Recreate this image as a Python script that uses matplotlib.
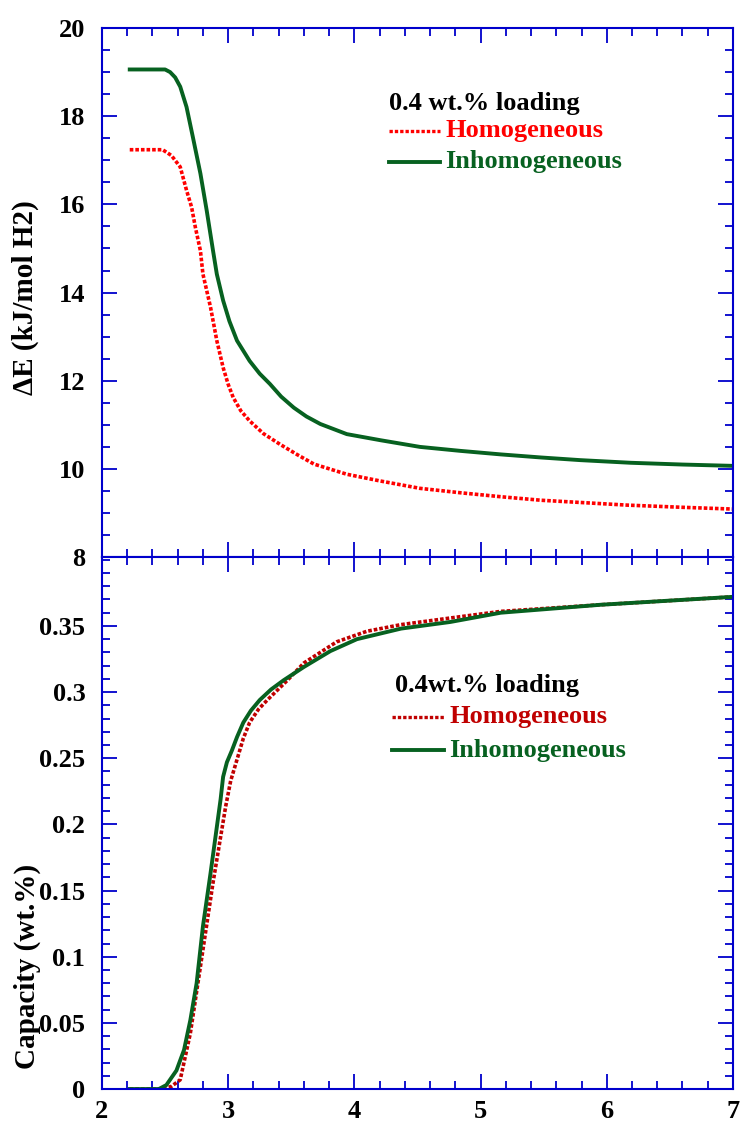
import matplotlib.pyplot as plt
from matplotlib.ticker import MultipleLocator

# interaction energy vs distance, 0.4 wt.% loading
x_homo_e = [2.22, 2.48, 2.55, 2.62, 2.67, 2.71, 2.74, 2.78, 2.80, 2.86, 2.91, 2.96, 3.00, 3.04,
            3.10, 3.17, 3.28, 3.41, 3.55, 3.68, 3.94, 4.20, 4.52, 4.84, 5.16, 5.48, 5.79, 6.16, 6.60, 7.00]
e_homo = [17.24, 17.24, 17.11, 16.85, 16.32, 15.94, 15.48, 14.95, 14.42, 13.67, 12.91, 12.30, 11.92, 11.62,
          11.32, 11.09, 10.80, 10.56, 10.32, 10.11, 9.88, 9.73, 9.56, 9.46, 9.37, 9.29, 9.24, 9.18, 9.13, 9.09]
x_inhomo_e = [2.22, 2.50, 2.54, 2.58, 2.62, 2.67, 2.72, 2.78, 2.83, 2.88, 2.91, 2.96, 3.01, 3.07, 3.17,
              3.25, 3.33, 3.42, 3.52, 3.62, 3.73, 3.94, 4.21, 4.52, 4.84, 5.16, 5.48, 5.79, 6.19, 6.60, 7.00]
e_inhomo = [19.06, 19.06, 19.00, 18.88, 18.67, 18.21, 17.53, 16.70, 15.86, 14.95, 14.42, 13.82, 13.35, 12.91, 12.45,
            12.16, 11.93, 11.64, 11.39, 11.19, 11.02, 10.79, 10.65, 10.50, 10.41, 10.33, 10.26, 10.20, 10.14, 10.10, 10.07]

# storage capacity
x_homo_c = [2.22, 2.48, 2.55, 2.62, 2.70, 2.78, 2.88, 2.98, 3.02, 3.07, 3.12, 3.17, 3.24, 3.31, 3.47, 3.60,
            3.86, 4.10, 4.37, 4.76, 5.16, 5.95, 7.00]
cap_homo = [0.0, 0.0, 0.002, 0.007, 0.042, 0.0925, 0.156, 0.2135, 0.233, 0.249, 0.265, 0.277, 0.287, 0.294, 0.309, 0.322,
            0.338, 0.346, 0.351, 0.356, 0.361, 0.366, 0.372]
x_inhomo_c = [2.22, 2.45, 2.51, 2.59, 2.65, 2.70, 2.75, 2.80, 2.86, 2.91, 2.94, 2.96, 2.99, 3.03, 3.07, 3.12,
              3.18, 3.25, 3.34, 3.44, 3.60, 3.81, 4.02, 4.37, 4.76, 5.16, 5.95, 7.00]
cap_inhomo = [0.0, 0.0, 0.003, 0.014, 0.0295, 0.052, 0.080, 0.123, 0.163, 0.198, 0.219, 0.236, 0.247, 0.256, 0.266, 0.277,
              0.286, 0.294, 0.302, 0.309, 0.319, 0.331, 0.340, 0.348, 0.353, 0.360, 0.366, 0.372]

RED = '#ff0000'
DARKRED = '#c00000'
GREEN = '#076120'
BLUE = '#0000cc'
SERIF = ['Liberation Serif', 'DejaVu Serif']

plt.rcParams['font.family'] = SERIF
plt.rcParams['font.weight'] = 'bold'

fig = plt.figure(figsize=(7.4, 11.21), dpi=100)
ax1 = fig.add_axes([0.1378, 0.503, 0.8527, 0.472])
ax2 = fig.add_axes([0.1378, 0.0285, 0.8527, 0.4745])


def style_axes(ax):
    for sp in ax.spines.values():
        sp.set_color(BLUE)
        sp.set_linewidth(1.5)
    ax.xaxis.set_major_locator(MultipleLocator(1))
    ax.xaxis.set_minor_locator(MultipleLocator(0.2))
    ax.tick_params(which='both', direction='in', top=True, right=True, color=BLUE,
                   labelsize=19, width=1.3)
    ax.tick_params(which='major', length=11)
    ax.tick_params(which='minor', length=6)
    ax.tick_params(axis='y', pad=12)
    ax.set_xlim(2, 7)
    for lab in ax.get_xticklabels() + ax.get_yticklabels():
        lab.set_fontweight('bold')


ax1.plot(x_homo_e, e_homo, color=RED, lw=2.6, linestyle=(0, (1.0, 0.55)))
ax1.plot(x_inhomo_e, e_inhomo, color=GREEN, lw=2.8)
ax1.set_ylim(8, 20)
ax1.yaxis.set_major_locator(MultipleLocator(2))
ax1.yaxis.set_minor_locator(MultipleLocator(0.5))
style_axes(ax1)
ax1.tick_params(axis='x', labelbottom=False)
ax1.set_ylabel('ΔE (kJ/mol H2)', fontsize=21, fontweight='bold')
ax1.yaxis.set_label_coords(-0.100, 0.49)

ax2.plot(x_homo_c, cap_homo, color=DARKRED, lw=2.6, linestyle=(0, (1.0, 0.55)))
ax2.plot(x_inhomo_c, cap_inhomo, color=GREEN, lw=2.8)
ax2.set_ylim(0, 0.402)
ax2.yaxis.set_major_locator(MultipleLocator(0.05))
ax2.yaxis.set_minor_locator(MultipleLocator(0.01))
style_axes(ax2)
ax2.set_yticks([0, 0.05, 0.1, 0.15, 0.2, 0.25, 0.3, 0.35])
ax2.set_yticklabels(['0', '0.05', '0.1', '0.15', '0.2', '0.25', '0.3', '0.35'], fontweight='bold')
ax2.set_ylabel('Capacity (wt.%)', fontsize=21, fontweight='bold')
ax2.yaxis.set_label_coords(-0.097, 0.23)
ax2.tick_params(axis='x', pad=8)

# hand-placed legends in axes fraction coordinates
def legend_block(ax, title, tx, ty, lx0, lx1, ly_h, ly_i, red):
    ax.text(tx, ty, title, transform=ax.transAxes, fontsize=19, fontweight='bold',
            va='center', ha='left')
    ax.plot([lx0, lx1], [ly_h, ly_h], transform=ax.transAxes, color=red, lw=2.4,
            linestyle=(0, (1.0, 0.6)), clip_on=False)
    ax.plot([lx0, lx1], [ly_i, ly_i], transform=ax.transAxes, color=GREEN, lw=2.8, clip_on=False)
    ax.text(lx1 + 0.008, ly_h, 'Homogeneous', transform=ax.transAxes, fontsize=19,
            fontweight='bold', color=red, va='center', ha='left')
    ax.text(lx1 + 0.008, ly_i, 'Inhomogeneous', transform=ax.transAxes, fontsize=19,
            fontweight='bold', color=GREEN, va='center', ha='left')


legend_block(ax1, '0.4 wt.% loading', 0.455, 0.858, 0.455, 0.536, 0.806, 0.747, RED)
legend_block(ax2, '0.4wt.% loading', 0.465, 0.758, 0.460, 0.542, 0.700, 0.637, DARKRED)

fig.savefig('out.png', dpi=100)
